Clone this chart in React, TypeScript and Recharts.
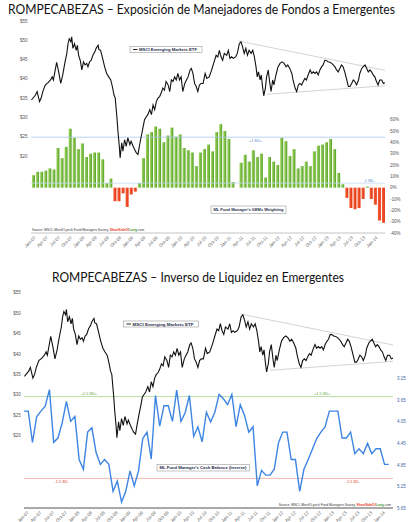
import React from 'react';
import { ComposedChart, Bar, Line, XAxis, YAxis, Cell, ReferenceLine } from 'recharts';

// EEM closes: position in months since start of Jan-07, price in $
const priceMonth = [
  0.1, 1.1, 1.5, 2.1, 2.5, 2.9, 3.5, 4.2, 4.8, 5.2, 5.5, 5.8, 6.3, 6.8, 7.3, 7.8, 8.3, 8.8, 9.1, 9.4,
  9.8, 10.0, 10.3, 10.7, 11.1, 11.4, 11.7, 12.1, 12.5, 12.9, 13.3, 13.7, 14.0, 14.4, 14.8, 15.2, 15.7, 16.0, 16.5, 16.7,
  17.1, 17.6, 18.1, 18.6, 19.1, 19.6, 20.0, 20.4, 20.7, 21.1, 21.4, 21.7, 21.9, 22.3, 22.6, 23.0, 23.4, 23.8, 24.3, 24.6,
  25.1, 25.5, 25.9, 26.3, 26.7, 27.1, 27.5, 27.9, 28.3, 28.7, 29.2, 29.6, 30.0, 30.4, 30.8, 31.2, 31.6, 32.0, 32.4, 32.8,
  33.2, 33.7, 34.1, 34.5, 34.9, 35.3, 35.7, 36.1, 36.5, 36.9, 37.3, 37.8, 38.2, 38.6, 39.1, 39.4, 39.8, 40.2, 40.6, 41.0,
  41.4, 41.8, 42.3, 42.8, 43.2, 43.8, 44.4, 45.0, 45.5, 45.9, 46.3, 46.7, 47.1, 47.5, 48.1, 48.5, 48.9, 49.3, 49.7, 50.3,
  50.7, 51.2, 51.6, 52.0, 52.4, 52.8, 53.2, 53.6, 54.1, 54.5, 54.9, 55.3, 55.6, 55.9, 56.3, 56.6, 56.9, 57.2, 57.6, 57.9,
  58.3, 58.7, 59.0, 59.4, 59.7, 60.2, 60.7, 61.2, 61.7, 62.2, 62.7, 63.1, 63.6, 64.1, 64.4, 64.9, 65.3, 65.7, 66.1, 66.5,
  66.9, 67.3, 67.7, 68.1, 68.6, 69.0, 69.4, 69.8, 70.2, 70.6, 71.0, 71.4, 71.8, 72.2, 72.7, 73.0, 73.5, 73.9, 74.3, 74.7,
  75.1, 75.5, 75.9, 76.3, 76.7, 77.1, 77.6, 78.0, 78.4, 78.8, 79.2, 79.6, 80.0, 80.5, 80.8, 81.3, 81.6, 82.1, 82.5, 82.9,
  83.3, 83.7, 84.1, 84.5, 84.9, 85.3, 85.7, 86.2, 86.6, 87.0,
];
const priceClose = [
  34.5, 35.8, 36.7, 34.1, 35.0, 36.7, 38.4, 39.0, 39.7, 40.5, 39.7, 41.4, 44.3, 41.8, 38.8, 41.0, 44.0, 46.6, 49.1, 50.4,
  49.6, 50.9, 47.9, 49.1, 47.4, 48.7, 46.1, 44.8, 42.3, 44.4, 43.6, 44.0, 43.1, 44.4, 44.8, 46.1, 47.0, 47.9, 48.7, 47.6,
  47.4, 45.3, 43.1, 41.4, 40.5, 39.7, 38.0, 35.8, 35.0, 30.2, 26.0, 22.5, 19.5, 23.4, 21.2, 24.2, 22.5, 24.7, 22.9, 23.8,
  22.5, 21.6, 20.8, 20.4, 22.9, 25.1, 27.2, 29.4, 30.1, 30.7, 32.0, 30.7, 33.2, 32.0, 34.1, 35.0, 35.4, 36.3, 37.6, 37.1,
  39.3, 38.4, 36.7, 39.7, 39.3, 40.5, 39.7, 41.4, 39.7, 40.5, 36.7, 38.8, 39.7, 40.5, 42.3, 42.7, 41.4, 38.8, 38.0, 36.7,
  38.4, 38.8, 38.8, 41.4, 40.1, 40.5, 42.3, 44.4, 46.1, 45.7, 47.4, 45.7, 44.8, 46.6, 46.1, 47.4, 45.3, 45.7, 45.3, 45.7,
  46.6, 49.1, 49.6, 48.3, 46.6, 47.9, 46.1, 47.4, 46.6, 47.4, 45.7, 43.1, 40.5, 41.8, 39.7, 41.0, 38.0, 35.6, 37.6, 40.5,
  42.3, 38.8, 36.7, 39.7, 38.4, 41.0, 43.1, 44.0, 44.4, 44.0, 43.1, 43.6, 42.7, 41.4, 39.7, 37.6, 36.7, 38.4, 38.8, 38.4,
  39.3, 40.1, 39.7, 41.0, 42.3, 41.4, 41.8, 41.4, 41.8, 41.0, 42.3, 43.1, 43.6, 44.8, 44.7, 44.4, 44.3, 44.0, 43.6, 43.1,
  42.3, 41.8, 42.7, 43.6, 43.1, 41.8, 39.7, 38.0, 38.0, 38.8, 39.7, 39.3, 38.4, 39.7, 41.4, 42.7, 43.1, 43.6, 42.7, 41.8,
  42.3, 41.8, 41.0, 40.5, 39.3, 38.4, 39.7, 39.7, 38.8, 39.0,
];

// ML survey: net % of managers overweight GEMs, monthly Jan-07 .. Mar-14
const gemWeighting = [
  11, 14, 14, 15, 17, 16, 35, 26, 36, 52, 44, 34, 39, 27, 30, 31, 31, 25, 4, 8,
  -12, -12, -5, -17, -6, -3.5, 4, 26, 47, 49, 54, 52, 40, 46, 53, 45, 47, 35, 33, 31,
  19, 31, 34, 38, 32, 49, 56, 50, 43, 5, 0, 22, 29, 23, 33, 27, 30, 9, 27, 23,
  20, 44, 41, 28, 34, 17, 19, 23, 19, 32, 37, 38, 40, 43, 34, 13, 3, -9, -18, -19,
  -18, -10, 1, -10, -15, -29, -31,
];

// ML survey: average cash balance %, monthly Jan-07 .. Mar-14 (plotted inverted)
const cashBalance = [
  3.85, 3.85, 4.43, 3.95, 3.85, 3.76, 3.45, 4.43, 4.35, 4.07, 3.67, 4.04, 3.95, 4.75, 4.93, 4.24, 4.16, 4.62, 4.84, 4.75,
  4.84, 5.34, 5.15, 5.54, 5.34, 4.96, 5.24, 4.96, 4.36, 4.24, 4.74, 3.56, 4.13, 3.75, 3.75, 4.04, 3.46, 4.04, 3.88, 3.56,
  4.32, 4.14, 4.42, 3.87, 4.05, 3.87, 3.54, 3.62, 3.73, 3.54, 4.14, 3.73, 3.93, 4.24, 4.14, 5.24, 4.95, 5.04, 5.04, 4.93,
  4.44, 4.24, 4.24, 4.75, 4.75, 5.34, 4.93, 4.75, 4.56, 4.36, 4.24, 4.14, 3.85, 3.85, 3.85, 4.35, 4.35, 4.24, 4.64, 4.55,
  4.64, 4.45, 4.64, 4.55, 4.55, 4.84, 4.84,
];

const quarterTicks = [
  'Jan-07', 'Apr-07', 'Jul-07', 'Oct-07', 'Jan-08', 'Apr-08', 'Jul-08', 'Oct-08', 'Jan-09', 'Apr-09',
  'Jul-09', 'Oct-09', 'Jan-10', 'Apr-10', 'Jul-10', 'Oct-10', 'Jan-11', 'Apr-11', 'Jul-11', 'Oct-11',
  'Jan-12', 'Apr-12', 'Jul-12', 'Oct-12', 'Jan-13', 'Apr-13', 'Jul-13', 'Oct-13', 'Jan-14',
];

const dollarTicks = [20, 25, 30, 35, 40, 45, 50, 55];
const weightTicks = [-40, -30, -20, -10, 0, 10, 20, 30, 40, 50, 60];
const cashTicks = [3.25, 3.65, 4.05, 4.45, 4.85, 5.25, 5.65];

// converging wedge drawn over the price line: [month, $]
const wedgeTop = [[51, 49.8], [87, 42.2]];
const wedgeBottom = [[58, 36.0], [87, 38.2]];

// standard deviation bands
const gemUpperSd = 44.5;
const gemLowerSd = 4;
const cashUpperSd = 3.58;
const cashLowerSd = 5.1;

const priceData = priceMonth.map((t, i) => ({ t, p: priceClose[i] }));
const weightData = gemWeighting.map((w, i) => ({ m: i, w }));
const cashData = [
  ...cashBalance.map((c, i) => ({ t: i, c })),
  ...priceData,
].sort((a, b) => a.t - b.t);
const quarterPos = quarterTicks.map((_, i) => i * 3);

const axisFont = 'Liberation Sans, Arial, sans-serif';

const QuarterTick = (props: any) => {
  const { x, y, payload } = props;
  const ax = x + 5;
  const ay = y + 3;
  return (
    <text x={ax} y={ay} transform={`rotate(-45 ${ax} ${ay})`} textAnchor="end"
      fontSize={4.5} fill="#666" fontFamily={axisFont}>
      {quarterTicks[Math.round(payload.value / 3)]}
    </text>
  );
};

const BandLabel = (props: any) => {
  const { viewBox, text, spots, color, dy } = props;
  if (!viewBox) return null;
  return (
    <g>
      {spots.map((f: number) => (
        <text key={f} x={viewBox.x + viewBox.width * f} y={viewBox.y + dy} textAnchor="middle"
          fontSize={3.8} fill={color} fontFamily={axisFont}>
          {text}
        </text>
      ))}
    </g>
  );
};

const tickStyle = { fontSize: 4.5, fill: '#555', fontFamily: axisFont };

const Legend = ({ x, y, w, h, label, swatch, tl }: any) => (
  <g>
    <rect x={x} y={y} width={w} height={h} fill="#fff" stroke="#9a9a9a" strokeWidth={0.6} />
    {swatch && <line x1={x + 3} x2={x + 7.5} y1={y + h / 2} y2={y + h / 2} stroke="#111" strokeWidth={0.9} />}
    <text x={swatch ? x + 9 : x + 2.5} y={y + h / 2 + 1.6} fontSize={4.3} fontWeight="bold" fill="#1f2d4d"
      fontFamily={axisFont} textLength={tl} lengthAdjust="spacingAndGlyphs">
      {label}
    </text>
  </g>
);

const Source = ({ x, y, anchor }: any) => (
  <text x={x} y={y} fontSize={3.3} fill="#333" fontFamily={axisFont} textAnchor={anchor}>
    Source: MSCI, Merrill Lynch Fund Managers Survey, <tspan fill="#e8361a" fontWeight="bold">ShortSideOf</tspan>
    <tspan fill="#4c9a2a" fontWeight="bold">Long</tspan>.com
  </text>
);

export default function App() {
  return (
    <div style={{ position: 'absolute', left: 0, top: 0, width: 409, height: 522, background: '#fff', overflow: 'hidden' }}>
      {/* GEMs weighting vs EEM */}
      <div style={{ position: 'absolute', left: 0, top: 0 }}>
        <ComposedChart width={409} height={260} data={weightData} margin={{ top: 21, right: 0, bottom: 0, left: 0 }}>
          <defs>
            <linearGradient id="gemGreen" x1="0" y1="0" x2="1" y2="0">
              <stop offset="0%" stopColor="#a5d66a" />
              <stop offset="55%" stopColor="#78bd3f" />
              <stop offset="100%" stopColor="#559a2a" />
            </linearGradient>
            <linearGradient id="gemRed" x1="0" y1="0" x2="1" y2="0">
              <stop offset="0%" stopColor="#f7653c" />
              <stop offset="100%" stopColor="#e2300e" />
            </linearGradient>
          </defs>
          <XAxis xAxisId="t" type="number" dataKey="t" domain={[0, 87]} ticks={quarterPos} interval={0}
            height={27} tick={QuarterTick} tickLine={false} tickSize={0} axisLine={{ stroke: '#c4c4c4' }} allowDataOverflow />
          <XAxis xAxisId="m" dataKey="m" hide height={0} />
          <YAxis yAxisId="px" orientation="left" width={31} domain={[0, 55]} ticks={dollarTicks} interval={0}
            tickFormatter={(v: number) => `$${v}`} tick={tickStyle} tickLine={false} tickSize={0} tickMargin={3.5}
            axisLine={false} allowDataOverflow />
          <YAxis yAxisId="pct" orientation="right" width={24} domain={[-40, 147]} ticks={weightTicks} interval={0}
            tickFormatter={(v: number) => `${v}%`} tick={tickStyle} tickLine={false} tickSize={0} tickMargin={5}
            axisLine={false} allowDataOverflow />
          <ReferenceLine xAxisId="t" yAxisId="pct" y={gemUpperSd} stroke="#aac6ee" strokeWidth={0.8}
            label={<BandLabel text="+1 SD+" spots={[0.634]} color="#4f7fc8" dy={4.6} />} />
          <ReferenceLine xAxisId="t" yAxisId="pct" y={gemLowerSd} stroke="#c4d8f2" strokeWidth={0.8}
            label={<BandLabel text="-1 SD-" spots={[0.955]} color="#4f7fc8" dy={-1.4} />} />
          <Bar xAxisId="m" yAxisId="pct" dataKey="w" barSize={3} isAnimationActive={false}>
            {weightData.map((d) => (
              <Cell key={d.m} fill={d.w >= 0 ? 'url(#gemGreen)' : 'url(#gemRed)'} />
            ))}
          </Bar>
          <ReferenceLine xAxisId="t" yAxisId="px" segment={wedgeTop.map(([t, p]) => ({ x: t, y: p }))}
            stroke="#c8c8c8" strokeWidth={0.8} />
          <ReferenceLine xAxisId="t" yAxisId="px" segment={wedgeBottom.map(([t, p]) => ({ x: t, y: p }))}
            stroke="#c8c8c8" strokeWidth={0.8} />
          <Line xAxisId="t" yAxisId="px" data={priceData} dataKey="p" stroke="#111" strokeWidth={1.1}
            dot={false} isAnimationActive={false} />
        </ComposedChart>
      </div>

      {/* inverted cash balance vs EEM */}
      <div style={{ position: 'absolute', left: 0, top: 260 }}>
        <ComposedChart width={409} height={262} data={cashData} margin={{ top: 32.7, right: 0, bottom: 0, left: 0 }}>
          <XAxis type="number" dataKey="t" domain={[0, 87]} ticks={quarterPos} interval={0}
            height={14} tick={QuarterTick} tickLine={false} tickSize={0} axisLine={{ stroke: '#555', strokeWidth: 1 }} allowDataOverflow />
          <YAxis yAxisId="px" orientation="left" width={24} domain={[2.3, 55]} ticks={dollarTicks} interval={0}
            tickFormatter={(v: number) => `$${v}`} tick={tickStyle} tickLine={false} tickSize={0} tickMargin={3.3}
            axisLine={false} allowDataOverflow />
          <YAxis yAxisId="cash" orientation="right" width={16} domain={[1.65, 5.65]} reversed ticks={cashTicks} interval={0}
            tickFormatter={(v: number) => v.toFixed(2)} tick={{ ...tickStyle, fill: '#4466aa' }} tickLine={false} tickSize={0} tickMargin={4}
            axisLine={false} allowDataOverflow />
          <ReferenceLine yAxisId="cash" y={cashUpperSd} stroke="#a8d48c" strokeWidth={0.8}
            label={<BandLabel text="+1.5 SD+" spots={[0.176, 0.808]} color="#58a035" dy={-1.4} />} />
          <ReferenceLine yAxisId="cash" y={cashLowerSd} stroke="#f2a49c" strokeWidth={0.8}
            label={<BandLabel text="-1.5 SD-" spots={[0.102, 0.891]} color="#e0412c" dy={4.2} />} />
          <ReferenceLine yAxisId="px" segment={wedgeTop.map(([t, p]) => ({ x: t, y: p }))}
            stroke="#c8c8c8" strokeWidth={0.8} />
          <ReferenceLine yAxisId="px" segment={wedgeBottom.map(([t, p]) => ({ x: t, y: p }))}
            stroke="#c8c8c8" strokeWidth={0.8} />
          <Line yAxisId="cash" dataKey="c" stroke="#3d85e2" strokeWidth={1.4} connectNulls
            dot={false} isAnimationActive={false} />
          <Line yAxisId="px" dataKey="p" stroke="#111" strokeWidth={1.1} connectNulls
            dot={false} isAnimationActive={false} />
        </ComposedChart>
      </div>

      <svg width={409} height={522} style={{ position: 'absolute', left: 0, top: 0, pointerEvents: 'none' }}>
        <text x={8} y={13.5} fontSize={12.5} fill="#111" fontFamily="Lato, 'Open Sans', sans-serif"
          textLength={387} lengthAdjust="spacingAndGlyphs">
          ROMPECABEZAS – Exposición de Manejadores de Fondos a Emergentes
        </text>
        <text x={52} y={282} fontSize={12.5} fill="#111" fontFamily="Lato, 'Open Sans', sans-serif"
          textLength={292} lengthAdjust="spacingAndGlyphs">
          ROMPECABEZAS – Inverso de Liquidez en Emergentes
        </text>
        <Legend x={130} y={46.5} w={72} h={6} swatch label="MSCI Emerging Markets ETF" tl={58} />
        <Legend x={211} y={206} w={75} h={7.5} label="ML Fund Manager's GEMs Weighting" tl={70} />
        <Legend x={123.5} y={321} w={75} h={6} swatch label="MSCI Emerging Markets ETF" tl={61} />
        <Legend x={157} y={464.5} w={92.5} h={6.5} label="ML Fund Manager's Cash Balance (Inverse)" tl={87} />
        <Source x={32} y={231} anchor="start" />
        <Source x={391} y={505.5} anchor="end" />
      </svg>
    </div>
  );
}
